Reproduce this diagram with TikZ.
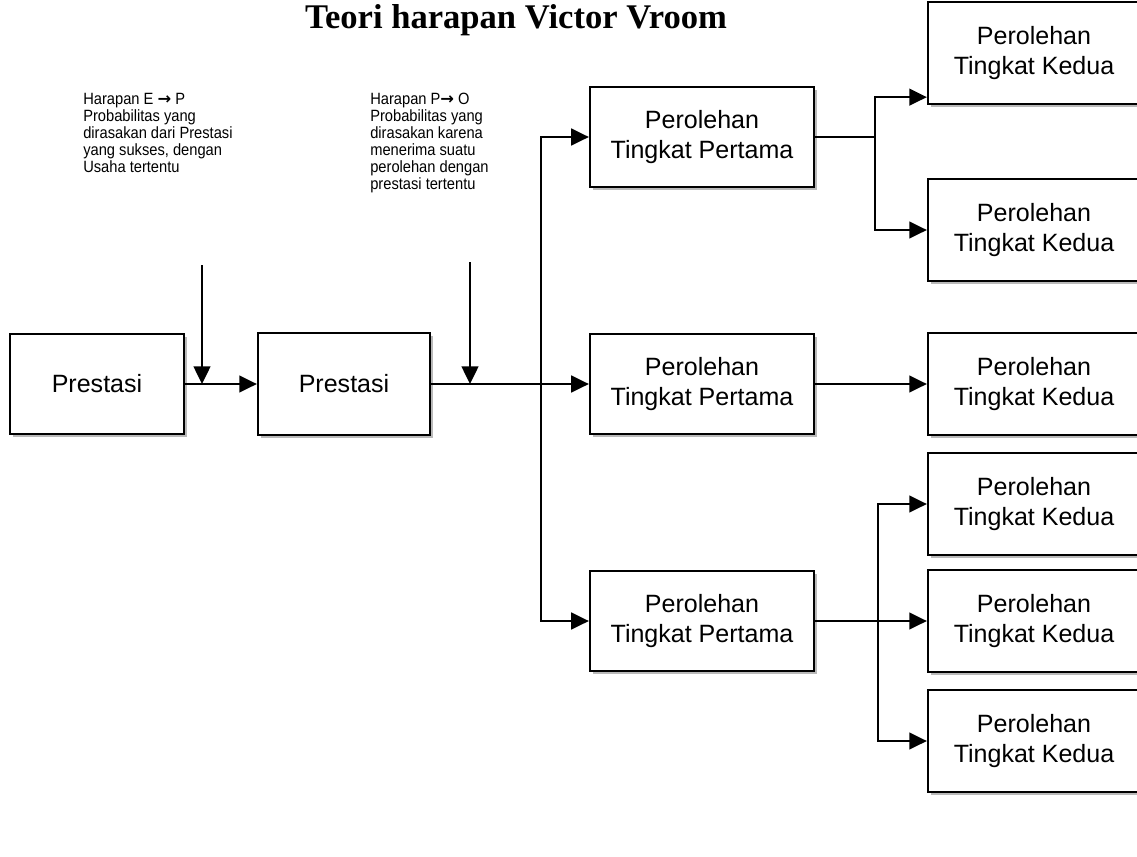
\documentclass[tikz,border=0pt]{standalone}
\usepackage{fontspec}
\usepackage{tikz}
\usetikzlibrary{arrows.meta,shadows}
\newfontfamily\arialf{Liberation Sans}
\newfontfamily\narrowf[FakeStretch=0.9]{Liberation Sans}
\newfontfamily\timesf{Liberation Serif}
\newfontfamily\dejavuf{DejaVu Sans}
\newcommand\boxfont{\arialf\fontsize{17.8}{21.5}\selectfont}
\newcommand\notefont{\narrowf\fontsize{11.6}{12.1}\selectfont}
\newcommand\titlefont{\timesf\bfseries\fontsize{24.6}{28}\selectfont}
\newcommand\rarr{{\dejavuf\bfseries →}}
\tikzset{
  box/.style={draw,line width=1.6pt,fill=white,align=center,font=\boxfont,
              inner sep=0pt,
              drop shadow={shadow xshift=2.2pt,shadow yshift=-2.2pt,
                           fill=gray!55,opacity=1}},
  pbox/.style={box,minimum width=4.35cm,minimum height=2.5cm},
  tbox/.style={box,minimum width=5.6cm,minimum height=2.5cm},
  kbox/.style={box,minimum width=5.3cm,minimum height=2.55cm},
  arr/.style={-{Triangle[length=0.44cm,width=0.42cm]},line width=1.3pt},
  lin/.style={line width=1.3pt},
  note/.style={anchor=north west,align=left,inner sep=0pt,font=\notefont},
}
\begin{document}
\begin{tikzpicture}[x=0.025cm,y=-0.025cm]
\useasboundingbox (0,0) rectangle (1137,856);
\clip (0,0) rectangle (1137,856);
% title
\node[font=\titlefont] (title) at (516,20) {Teori harapan Victor Vroom};
% expectancy notes
\node[note] (harEP) at (83,93) {Harapan E \rarr{} P\\Probabilitas yang\\dirasakan dari Prestasi\\yang sukses, dengan\\Usaha tertentu};
\node[note] (harPO) at (370,93) {Harapan P\rarr{} O\\Probabilitas yang\\dirasakan karena\\menerima suatu\\perolehan dengan\\prestasi tertentu};
% main chain
\node[pbox] (pres1) at (97,384) {Prestasi};
\node[pbox,minimum width=4.3cm,minimum height=2.55cm] (pres2) at (344,384) {Prestasi};
% first level outcomes
\node[tbox] (ptp1) at (702,137) {Perolehan\\Tingkat Pertama};
\node[tbox] (ptp2) at (702,384) {Perolehan\\Tingkat Pertama};
\node[tbox] (ptp3) at (702,621) {Perolehan\\Tingkat Pertama};
% second level outcomes
\node[kbox] (ptk1) at (1034,53) {Perolehan\\Tingkat Kedua};
\node[kbox] (ptk2) at (1034,230) {Perolehan\\Tingkat Kedua};
\node[kbox] (ptk3) at (1034,384) {Perolehan\\Tingkat Kedua};
\node[kbox] (ptk4) at (1034,504) {Perolehan\\Tingkat Kedua};
\node[kbox] (ptk5) at (1034,621) {Perolehan\\Tingkat Kedua};
\node[kbox] (ptk6) at (1034,741) {Perolehan\\Tingkat Kedua};
% connectors
\coordinate (ep) at (202,265);
\coordinate (po) at (470,262);
\coordinate (j1) at (541,384);
\coordinate (j2) at (875,137);
\coordinate (j3) at (878,621);
\draw[arr] (ep) -- (ep |- pres1.east);
\draw[arr] (po) -- (po |- pres2.east);
\draw[arr] (pres1) -- (pres2);
\draw[arr] (pres2) -- (ptp2);
\draw[arr] (j1) |- (ptp1);
\draw[arr] (j1) |- (ptp3);
\draw[lin] (ptp1) -- (j2);
\draw[arr] (j2) |- ([yshift=0.2cm]ptk1.south west);
\draw[arr] (j2) |- (ptk2);
\draw[arr] (ptp2) -- (ptk3);
\draw[lin] (ptp3) -- (j3);
\draw[arr] (j3) |- (ptk4);
\draw[arr] (j3) -- (ptk5);
\draw[arr] (j3) |- (ptk6);
\end{tikzpicture}
\end{document}
